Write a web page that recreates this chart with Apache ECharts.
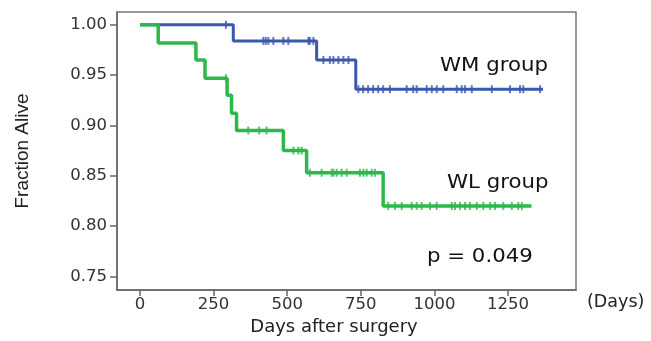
<!DOCTYPE html>
<html><head><meta charset="utf-8">
<script src="https://cdn.jsdelivr.net/npm/echarts@6/dist/echarts.min.js"></script>
<style>html,body{margin:0;padding:0;background:#fff}#c{width:651px;height:341px}</style>
</head><body><div id="c"></div>
<script>
// ---- data ----
const xTicks = [0, 250, 500, 750, 1000, 1250];
const yTicks = [0.75, 0.80, 0.85, 0.90, 0.95, 1.00];
// Kaplan-Meier steps: [day, survival]
const wmSteps = [[0,1.0],[317,0.984],[600,0.965],[733,0.936],[1369,0.936]];
const wlSteps = [[0,1.0],[62,0.982],[190,0.965],[221,0.947],[296,0.930],[311,0.912],[328,0.895],[487,0.875],[566,0.853],[826,0.820],[1330,0.820]];
// censored observations (days)
const wmCensor = [292, 419,427,436,453,487,504,572,577,589, 623,645,657,674,691,708,
  742,758,775,792,809,826,849,906,928,940,974,991,1008,1030,1076,1093,1104,1127,1195,1257,1291,1302,1359];
const wlCensor = [292, 368,405,430, 521,538,549, 577,617,651,657,668,685,702,747,759,770,787,798,
  843,866,889,923,940,957,985,1008,1059,1070,1087,1104,1121,1144,1166,1189,1206,1234,1263,1285,1297];
const groupNames = ['WM group', 'WL group'];
const pText = 'p = 0.049';
const xTitle = 'Days after surgery';
const yTitle = 'Fraction Alive';
const xUnit = '(Days)';

function survAt(steps, t){ let v = steps[0][1]; for (const s of steps){ if (s[0] <= t) v = s[1]; } return v; }

const BLUE = '#3b58ad', GREEN = '#2db84b';
const chart = echarts.init(document.getElementById('c'), null, {renderer:'canvas'});
const tickFont = {fontFamily:'DejaVu Sans', fontSize:16.5, color:'#333'};
const annFont = '19px "DejaVu Sans"';
chart.setOption({
  animation:false,
  grid:{left:117, right:75, top:12, bottom:51, show:true, borderColor:'#7a7a7a', borderWidth:1.5,
    outerBoundsMode:'none', containLabel:false},
  xAxis:{type:'value', min:-78, max:1481,
    axisLine:{show:true, onZero:false, lineStyle:{color:'#666', width:1.5}},
    axisTick:{show:true, customValues:xTicks, length:6, lineStyle:{color:'#666', width:1.5}},
    axisLabel:Object.assign({customValues:xTicks, margin:6, formatter:v=>String(v)}, tickFont),
    splitLine:{show:false}},
  yAxis:{type:'value', min:0.7365, max:1.0127,
    name:yTitle, nameLocation:'middle', nameGap:85,
    nameTextStyle:{fontFamily:'Liberation Sans Narrow, Liberation Sans', fontSize:19, color:'#222'},
    axisLine:{show:true, onZero:false, lineStyle:{color:'#666', width:1.5}},
    axisTick:{show:true, customValues:yTicks, length:7, lineStyle:{color:'#666', width:1.5}},
    axisLabel:Object.assign({customValues:yTicks, margin:10, formatter:v=>v.toFixed(2)}, tickFont),
    splitLine:{show:false}},
  series:[
    {type:'line', step:'end', data:wmSteps, symbol:'none', lineStyle:{color:BLUE, width:3}, z:2},
    {type:'scatter', data:wmCensor.map(d=>[d, survAt(wmSteps,d)]), symbol:'rect', symbolSize:[2,8], itemStyle:{color:BLUE}, z:2},
    {type:'line', step:'end', data:wlSteps, symbol:'none', lineStyle:{color:GREEN, width:3.5}, z:3},
    {type:'scatter', data:wlCensor.map(d=>[d, survAt(wlSteps,d)]), symbol:'rect', symbolSize:[2,8], itemStyle:{color:GREEN}, z:3}
  ],
  graphic:[
    {type:'text', x:440, y:66, scaleX:1.12, style:{text:groupNames[0], font:annFont, fill:'#111', verticalAlign:'middle'}},
    {type:'text', x:447, y:183, scaleX:1.12, style:{text:groupNames[1], font:annFont, fill:'#111', verticalAlign:'middle'}},
    {type:'text', x:427, y:257, scaleX:1.12, style:{text:pText, font:annFont, fill:'#111', verticalAlign:'middle'}},
    {type:'text', x:587, y:302, style:{text:xUnit, font:'17.5px "DejaVu Sans"', fill:'#222', verticalAlign:'middle'}},
    {type:'text', x:334, y:327, style:{text:xTitle, font:'18px "DejaVu Sans"', fill:'#222', align:'center', verticalAlign:'middle'}}
  ]
});
</script></body></html>
